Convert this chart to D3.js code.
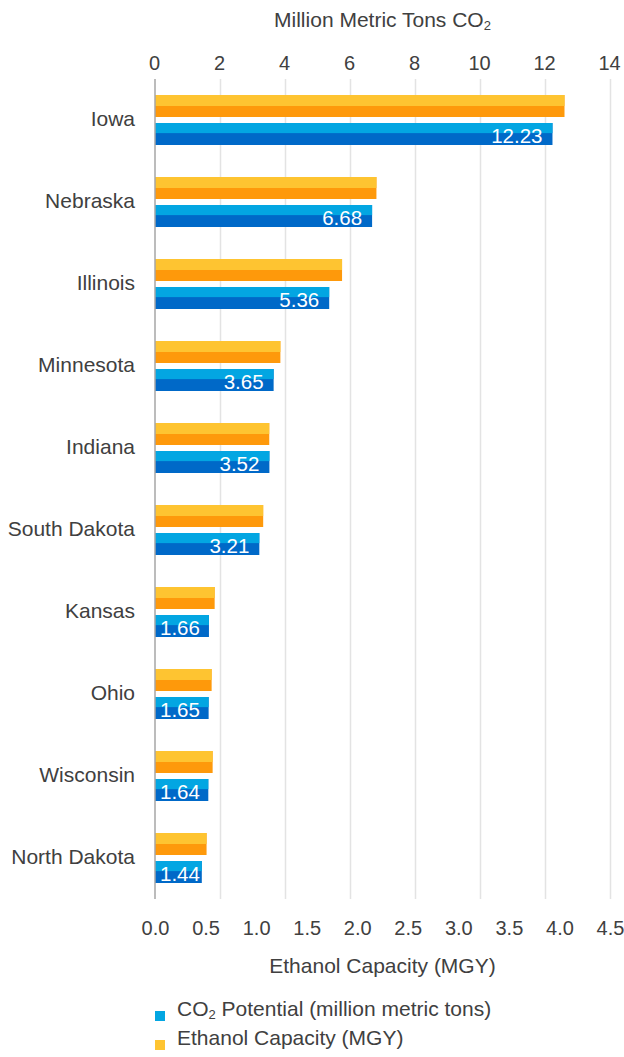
<!DOCTYPE html>
<html>
<head>
<meta charset="utf-8">
<script src="https://cdn.jsdelivr.net/npm/d3@7"></script>
<style>
  html, body { margin: 0; padding: 0; background: #fff; }
  svg { display: block; font-family: "Liberation Sans", Arial, sans-serif; }
</style>
</head>
<body>
<svg id="chart" width="624" height="1057"></svg>
<script>
const states = ["Iowa", "Nebraska", "Illinois", "Minnesota", "Indiana", "South Dakota", "Kansas", "Ohio", "Wisconsin", "North Dakota"];
const co2Values = [12.23, 6.68, 5.36, 3.65, 3.52, 3.21, 1.66, 1.65, 1.64, 1.44];
const ethanolValues = [4.05, 2.19, 1.85, 1.24, 1.13, 1.07, 0.59, 0.56, 0.57, 0.51];
const co2Ticks = [0, 2, 4, 6, 8, 10, 12, 14];
const ethanolTicks = [0, 0.5, 1, 1.5, 2, 2.5, 3, 3.5, 4, 4.5];
const seriesNames = ["ethanol", "co2"];

const svg = d3.select("#chart");
const textColor = "#404040";
const colors = {
  ethanol: { light: "#FEC431", dark: "#FE990B" },
  co2: { light: "#03A6E2", dark: "#0069C8" }
};

const plotLeft = 155, plotRight = 610, plotTop = 79, plotBottom = 899;

const xTop = d3.scaleLinear().domain([0, 14]).range([plotLeft, plotRight]);
const xBot = d3.scaleLinear().domain([0, 4.5]).range([plotLeft, plotRight]);
const y = d3.scaleBand().domain(states).range([plotTop, plotBottom]).padding(0);
const yInner = d3.scaleBand().domain(seriesNames).range([0, y.bandwidth()])
  .paddingInner(0.2143).paddingOuter(0.5714);

// gridlines
svg.append("g")
  .attr("transform", `translate(0,${plotTop})`)
  .call(d3.axisBottom(xTop).tickValues(co2Ticks.slice(1)).tickSize(plotBottom - plotTop).tickFormat(""))
  .call(g => g.select(".domain").remove())
  .call(g => g.selectAll(".tick line").attr("stroke", "#e3e3e3").attr("stroke-width", 1.5));

// top axis
svg.append("g")
  .attr("transform", `translate(-1,${plotTop - 9})`)
  .call(d3.axisTop(xTop).tickValues(co2Ticks).tickSize(0).tickPadding(0).tickFormat(d3.format("d")))
  .call(g => g.select(".domain").remove())
  .call(g => g.selectAll("text").attr("fill", textColor).attr("font-size", 20).attr("font-family", "Liberation Sans, Arial, sans-serif"));

// bottom axis
svg.append("g")
  .attr("transform", `translate(0,${plotBottom + 22})`)
  .call(d3.axisBottom(xBot).tickValues(ethanolTicks).tickSize(0).tickPadding(0).tickFormat(d3.format(".1f")))
  .call(g => g.select(".domain").remove())
  .call(g => g.selectAll("text").attr("fill", textColor).attr("font-size", 20).attr("font-family", "Liberation Sans, Arial, sans-serif"));

// axis titles
const topTitle = svg.append("text")
  .attr("x", (plotLeft + plotRight) / 2).attr("y", 27)
  .attr("text-anchor", "middle").attr("fill", textColor).attr("font-size", 21);
topTitle.append("tspan").text("Million Metric Tons CO");
topTitle.append("tspan").attr("font-size", 13).attr("dy", 3).text("2");

svg.append("text")
  .attr("x", (plotLeft + plotRight) / 2).attr("y", 973)
  .attr("text-anchor", "middle").attr("fill", textColor).attr("font-size", 21)
  .text("Ethanol Capacity (MGY)");

// bars
const groups = svg.append("g").selectAll("g.state")
  .data(states.map((s, i) => ({ state: s, co2: co2Values[i], ethanol: ethanolValues[i] })))
  .join("g").attr("class", "state")
  .attr("transform", d => `translate(0,${y(d.state)})`);

function drawBar(sel, key, scale, lightFrac) {
  const bw = yInner.bandwidth();
  sel.append("rect")
    .attr("x", plotLeft).attr("y", yInner(key))
    .attr("width", d => scale(d[key]) - plotLeft).attr("height", bw)
    .attr("fill", colors[key].dark);
  sel.append("rect")
    .attr("x", plotLeft).attr("y", yInner(key))
    .attr("width", d => scale(d[key]) - plotLeft).attr("height", bw * lightFrac)
    .attr("fill", colors[key].light);
}
drawBar(groups, "ethanol", xBot, 0.5);
drawBar(groups, "co2", xTop, 0.46);

// value labels on co2 bars
groups.append("text")
  .attr("y", yInner("co2") + yInner.bandwidth() - 2.5)
  .attr("text-anchor", "end").attr("fill", "#fff").attr("font-size", 20.5)
  .text(d => d3.format(".2f")(d.co2))
  .attr("x", function(d) {
    const w = this.getComputedTextLength();
    return Math.max(xTop(d.co2) - 10, plotLeft + 5 + w);
  });

// category labels
groups.append("text")
  .attr("x", 135).attr("y", y.bandwidth() / 2 - 1)
  .attr("dy", "0.35em").attr("text-anchor", "end")
  .attr("fill", textColor).attr("font-size", 21)
  .text(d => d.state);

// vertical axis line
svg.append("line")
  .attr("x1", plotLeft).attr("x2", plotLeft)
  .attr("y1", plotTop).attr("y2", plotBottom)
  .attr("stroke", "#a6a6a6").attr("stroke-width", 1.5);

// legend
const legendItems = [
  { key: "co2", parts: [["CO", 21, 0], ["2", 13, 3], [" Potential (million metric tons)", 21, -3]] },
  { key: "ethanol", parts: [["Ethanol Capacity (MGY)", 21, 0]] }
];
const legend = svg.append("g").selectAll("g")
  .data(legendItems).join("g")
  .attr("transform", (d, i) => `translate(155,${1016 + i * 29})`);
legend.append("rect")
  .attr("x", 0).attr("y", -5).attr("width", 10).attr("height", 10)
  .attr("fill", d => colors[d.key].light);
const lt = legend.append("text")
  .attr("x", 22).attr("y", 0).attr("dy", "0.35em").attr("fill", textColor);
lt.each(function(d) {
  const t = d3.select(this);
  d.parts.forEach(p => t.append("tspan").attr("font-size", p[1]).attr("dy", p[2]).text(p[0]));
});
</script>
</body>
</html>
